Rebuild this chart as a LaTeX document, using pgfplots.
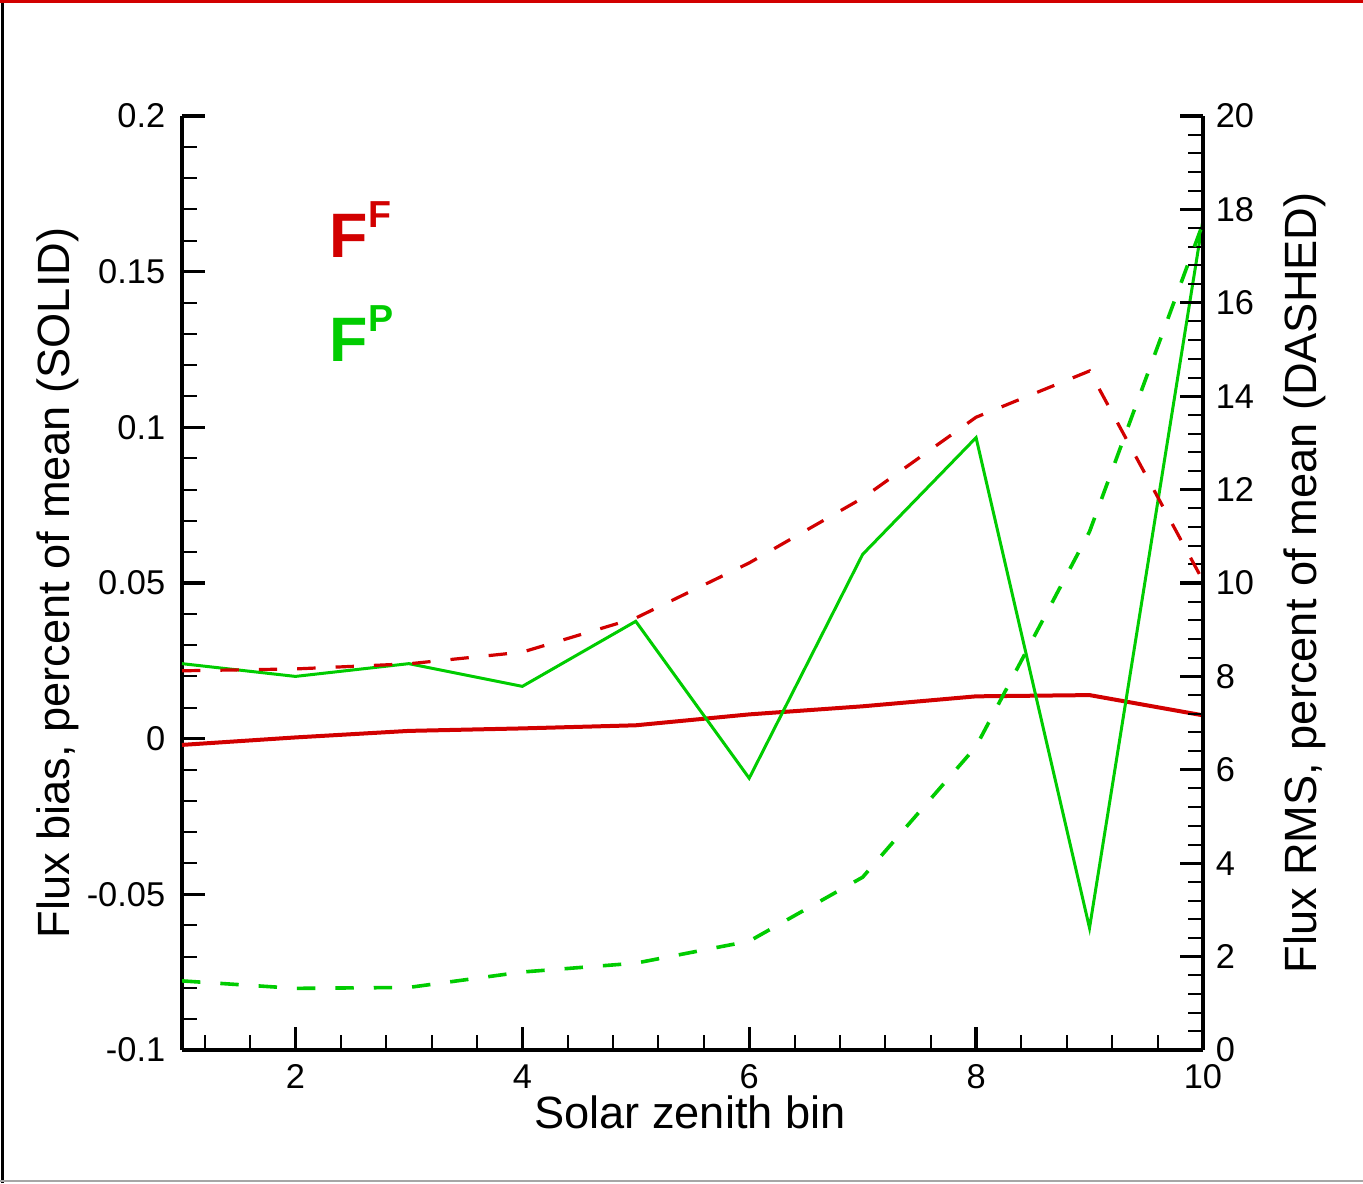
\documentclass[border=0pt]{standalone}
\usepackage{pgfplots}
\pgfplotsset{compat=1.18}
\usepackage{fontspec}
\setmainfont{Liberation Sans}

\definecolor{fred}{RGB}{210,0,0}
\definecolor{fgreen}{RGB}{0,204,0}

\pgfplotsset{
  base/.style={
    scale only axis, width=255.25pt, height=233.5pt,
    at={(45.5pt,33.25pt)}, anchor=south west,
    xmin=1, xmax=10,
    major tick length=5.75pt, minor tick length=3.75pt,
    major tick style={black, line width=0.8pt},
    minor tick style={black, line width=0.5pt},
    axis line style={-, line width=1pt},
    tick label style={font=\fontsize{8.6}{10}\selectfont},
    label style={font=\fontsize{11.3}{13}\selectfont},
    /pgf/number format/assume math mode=true,
  },
}

\begin{document}
\begin{tikzpicture}
\useasboundingbox (0,0) rectangle (340.75pt,295.75pt);
\fill[white] (0,0) rectangle (340.75pt,295.75pt);
\draw[black, line width=0.8pt] (0.7pt,0) -- (0.7pt,295.75pt);
\draw[fred, line width=0.8pt] (0,295.3pt) -- (340.75pt,295.3pt);
\draw[gray!70, line width=0.4pt] (0,0.5pt) -- (340.75pt,0.5pt);

% left axis: bias, solid lines
\begin{axis}[base,
  axis x line*=bottom, axis y line*=left,
  xtick align=inside, ytick align=inside,
  ymin=-0.1, ymax=0.2,
  ytick={-0.1,-0.05,0,0.05,0.1,0.15,0.2},
  yticklabels={-0.1,-0.05,0,0.05,0.1,0.15,0.2},
  minor y tick num=4,
  xtick={2,4,6,8,10},
  xticklabels={2,4,6,8,10},
  minor xtick={1.2,1.6,2.4,2.8,3.2,3.6,4.4,4.8,5.2,5.6,6.4,6.8,7.2,7.6,8.4,8.8,9.2,9.6},
  xticklabel style={anchor=base, inner sep=0pt, yshift=-9.5pt},
  yticklabel style={anchor=east, inner sep=0pt, xshift=-4pt},
  xlabel={Solar zenith bin},
  xlabel style={at={(axis description cs:0.4976,0)}, anchor=base, inner sep=0pt, yshift=-19.5pt},
  ylabel={Flux bias, percent of mean (SOLID)},
  ylabel style={at={(axis description cs:-0.1,0.5)}, anchor=south, inner sep=0pt},
]
\addplot[fred, line width=1pt] coordinates {
  (1,-0.002) (2,0.0004) (3,0.0025) (4,0.0033) (5,0.0043)
  (6,0.0078) (7,0.0104) (8,0.0136) (9,0.014) (10,0.0075)
};
\addplot[fgreen, line width=0.75pt] coordinates {
  (1,0.0241) (2,0.020) (3,0.0241) (4,0.0168) (5,0.0377)
  (6,-0.0127) (7,0.0592) (8,0.0967) (9,-0.0608) (10,0.1666)
};
\node[anchor=base west, inner sep=0pt, text=fred,
  font=\fontsize{15.7}{18}\selectfont\bfseries]
  at (rel axis cs:0.144,0.848) {F\raisebox{7.5pt}{\fontsize{9.4}{11}\selectfont F}};
\node[anchor=base west, inner sep=0pt, text=fgreen,
  font=\fontsize{15.7}{18}\selectfont\bfseries]
  at (rel axis cs:0.144,0.737) {F\raisebox{7.5pt}{\fontsize{9.4}{11}\selectfont P}};
\end{axis}

% right axis: RMS, dashed lines
\begin{axis}[base,
  axis x line=none, axis y line*=right,
  ytick align=inside,
  ymin=0, ymax=20,
  ytick={0,2,...,20},
  minor y tick num=4,
  yticklabel style={anchor=west, inner sep=0pt, xshift=3pt},
  ylabel={Flux RMS, percent of mean (DASHED)},
  ylabel style={at={(axis description cs:1.078,0.5)}, anchor=north, inner sep=0pt},
]
\addplot[fred, line width=0.8pt, dash pattern=on 4.6pt off 5pt] coordinates {
  (1,8.12) (2,8.16) (3,8.27) (4,8.52) (5,9.25)
  (6,10.43) (7,11.82) (8,13.55) (9,14.54) (10,10.05)
};
\addplot[fgreen, line width=0.9pt, dash pattern=on 4.6pt off 5pt] coordinates {
  (1,1.48) (2,1.32) (3,1.34) (4,1.67) (5,1.86)
  (6,2.33) (7,3.7) (8,6.5) (9,11.1) (10,17.7)
};
\end{axis}
\end{tikzpicture}
\end{document}
